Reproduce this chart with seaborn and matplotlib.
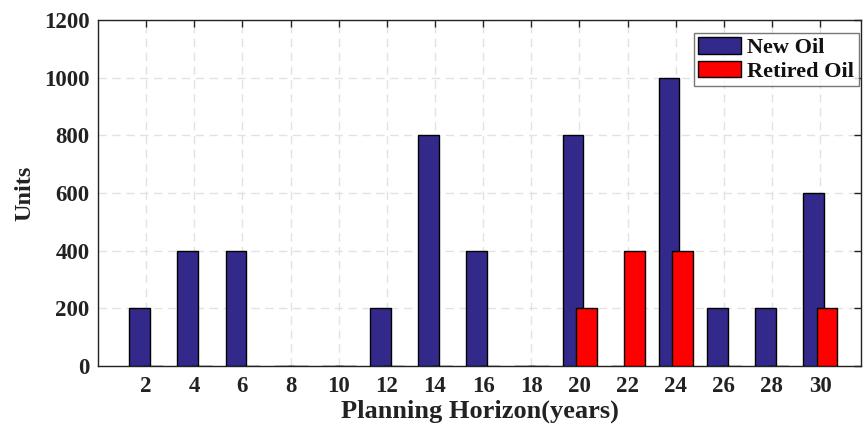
import matplotlib
matplotlib.use("Agg")
import matplotlib.pyplot as plt
import seaborn as sns
import pandas as pd

# Planning horizon (years) and capacity decisions per period
years = [2, 4, 6, 8, 10, 12, 14, 16, 18, 20, 22, 24, 26, 28, 30]
new_oil = [200, 400, 400, 0, 0, 200, 800, 400, 0, 800, 0, 1000, 200, 200, 600]
retired_oil = [0, 0, 0, 0, 0, 0, 0, 0, 0, 200, 400, 400, 0, 0, 200]
series_names = ["New Oil", "Retired Oil"]
series_colors = ["#33298A", "#FF0000"]
y_ticks = [0, 200, 400, 600, 800, 1000, 1200]

sns.set_theme(style="white")
plt.rcParams["font.family"] = ["Liberation Serif", "DejaVu Serif"]
plt.rcParams["font.weight"] = "bold"

fig = plt.figure(figsize=(8.64, 4.28), dpi=100)
ax = fig.add_axes([0.1134, 0.1449, 0.8831, 0.8084])

# Side-by-side bars that overlap a little, drawn on a numeric x axis
shifts = [-0.27, 0.29]
for name, values, color, shift in zip(series_names, [new_oil, retired_oil],
                                      series_colors, shifts):
    df = pd.DataFrame({"year": [y + shift for y in years], "units": values})
    sns.barplot(data=df, x="year", y="units", native_scale=True, width=0.43,
                color=color, saturation=1, edgecolor="black", linewidth=1.0,
                label=name, ax=ax, zorder=3)

ax.set_xlim(0, 31.7)
ax.set_ylim(0, 1200)
ax.set_xticks(years)
ax.set_xticklabels([str(y) for y in years])
ax.set_yticks(y_ticks)
ax.set_yticklabels([str(v) for v in y_ticks])

ax.grid(True, linestyle=(0, (6, 4)), color="#e2e2e2", linewidth=1.0, zorder=0)
ax.set_axisbelow(True)
for s in ax.spines.values():
    s.set_visible(True)
    s.set_color("#222222")
    s.set_linewidth(1.0)
ax.tick_params(axis="both", which="both", direction="in", length=5, width=1.0,
               color="#222222", top=True, right=True, labelsize=16.5,
               labelcolor="#222222")
ax.tick_params(axis="y", pad=6)
ax.tick_params(axis="x", pad=7)
for lab in ax.get_xticklabels() + ax.get_yticklabels():
    lab.set_fontweight("bold")

ax.set_xlabel("Planning Horizon(years)", fontsize=19, fontweight="bold",
              color="#222222", labelpad=2)
ax.set_ylabel("Units", fontsize=17.5, fontweight="bold", color="#222222", labelpad=6)

leg = ax.legend(loc="upper right", bbox_to_anchor=(0.997, 0.963), fontsize=16,
                frameon=True, fancybox=False, edgecolor="#555555",
                handlelength=1.9, handleheight=0.78, handletextpad=0.3,
                labelspacing=0.1, borderpad=0.2, borderaxespad=0.0)
leg.get_frame().set_linewidth(1.0)
for t in leg.get_texts():
    t.set_fontweight("bold")
    t.set_color("#111111")

fig.savefig("out.png", dpi=100)
